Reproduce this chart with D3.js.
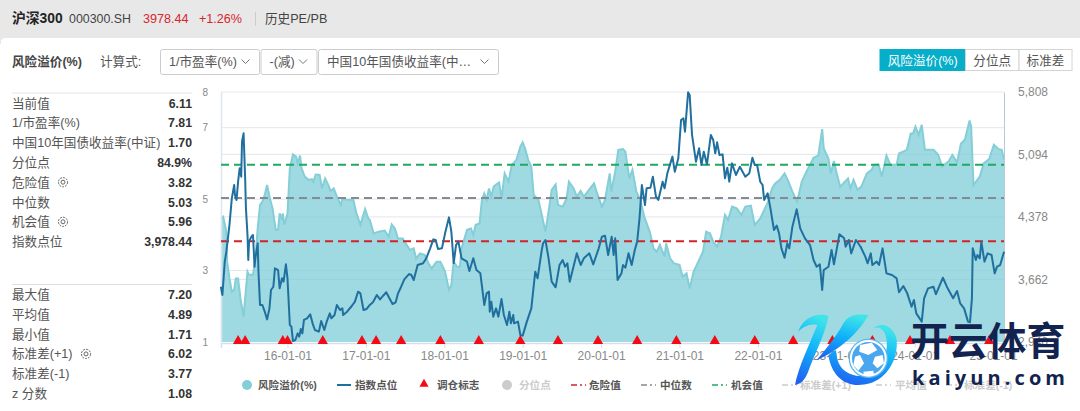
<!DOCTYPE html>
<html>
<head>
<meta charset="utf-8">
<script src="https://cdn.jsdelivr.net/npm/d3@7"></script>
<style>
html, body { margin: 0; padding: 0; background: #fff; overflow: hidden; }
svg { display: block; }
text { font-family: "Liberation Sans", "Noto Sans CJK SC", sans-serif; }
</style>
</head>
<body>
<svg id="chart" width="1080" height="411"></svg>
<script>
// [decimal year, risk premium %]
const riskSeries = [
  [2015.15,4.46],[2015.18,4.51],[2015.22,4.09],[2015.23,3.25],[2015.26,2.78],[2015.29,2.41],[2015.32,2.46],[2015.34,2.78],[2015.37,2.78],[2015.40,2.22],
  [2015.44,1.71],[2015.46,2.22],[2015.49,2.97],[2015.51,2.88],[2015.56,2.88],[2015.59,3.34],[2015.62,4.18],[2015.65,4.84],[2015.68,4.93],[2015.71,5.12],
  [2015.74,5.40],[2015.78,4.98],[2015.81,4.74],[2015.85,4.14],[2015.88,4.14],[2015.90,4.60],[2015.93,4.42],[2015.94,4.60],[2015.96,4.28],[2016.00,4.60],
  [2016.03,5.86],[2016.07,6.25],[2016.11,6.19],[2016.13,6.00],[2016.16,6.22],[2016.18,5.86],[2016.22,5.63],[2016.27,5.54],[2016.31,5.56],[2016.33,5.49],
  [2016.36,5.69],[2016.41,5.68],[2016.44,5.30],[2016.48,5.58],[2016.52,5.40],[2016.55,5.23],[2016.59,5.30],[2016.63,5.07],[2016.68,4.84],[2016.70,5.02],
  [2016.76,4.98],[2016.84,4.98],[2016.88,4.60],[2016.93,4.28],[2016.99,4.72],[2017.03,4.46],[2017.05,4.42],[2017.10,4.04],[2017.16,4.09],[2017.24,4.12],
  [2017.29,3.95],[2017.33,4.29],[2017.37,4.18],[2017.41,3.90],[2017.47,3.90],[2017.52,3.72],[2017.56,3.58],[2017.61,3.62],[2017.64,3.34],[2017.69,3.48],
  [2017.75,3.44],[2017.80,3.20],[2017.84,3.06],[2017.90,3.25],[2017.95,3.25],[2018.01,2.97],[2018.06,2.46],[2018.09,2.60],[2018.12,3.25],[2018.16,3.11],
  [2018.20,3.11],[2018.22,3.62],[2018.29,4.14],[2018.34,4.18],[2018.37,4.00],[2018.40,4.28],[2018.45,4.32],[2018.48,4.98],[2018.51,5.16],[2018.54,4.98],
  [2018.57,5.30],[2018.60,5.07],[2018.63,5.35],[2018.66,5.41],[2018.70,5.47],[2018.73,5.02],[2018.77,5.72],[2018.82,5.49],[2018.86,5.96],[2018.92,6.10],
  [2018.97,6.47],[2019.00,6.59],[2019.03,6.42],[2019.07,6.10],[2019.11,5.91],[2019.14,5.12],[2019.20,4.98],[2019.24,4.60],[2019.29,4.09],[2019.33,4.65],
  [2019.37,5.26],[2019.42,5.41],[2019.45,4.84],[2019.51,4.79],[2019.56,5.02],[2019.59,5.49],[2019.65,5.30],[2019.69,5.07],[2019.74,5.23],[2019.78,5.07],
  [2019.86,5.30],[2019.91,5.44],[2019.95,5.16],[2020.01,4.79],[2020.05,4.98],[2020.11,5.72],[2020.13,5.21],[2020.18,5.77],[2020.22,6.38],[2020.28,6.40],
  [2020.31,6.33],[2020.36,5.58],[2020.40,5.82],[2020.45,5.21],[2020.50,4.98],[2020.55,4.51],[2020.62,4.09],[2020.67,3.62],[2020.71,3.53],[2020.75,3.72],
  [2020.81,3.39],[2020.83,3.76],[2020.88,3.34],[2020.93,3.20],[2021.00,3.16],[2021.04,2.83],[2021.09,2.92],[2021.13,2.50],[2021.18,2.97],[2021.24,3.25],
  [2021.30,3.53],[2021.34,4.09],[2021.39,4.04],[2021.43,3.81],[2021.48,3.67],[2021.53,3.95],[2021.58,4.56],[2021.62,4.42],[2021.67,4.79],[2021.73,4.74],
  [2021.79,4.56],[2021.84,4.79],[2021.91,4.82],[2021.96,4.28],[2022.03,4.46],[2022.09,4.74],[2022.13,4.93],[2022.18,5.30],[2022.22,5.44],[2022.28,5.54],
  [2022.34,5.72],[2022.39,5.49],[2022.44,5.21],[2022.50,4.93],[2022.56,5.49],[2022.63,5.82],[2022.71,6.16],[2022.77,6.22],[2022.82,6.96],[2022.84,6.42],
  [2022.90,6.14],[2022.93,5.72],[2022.97,6.07],[2023.01,5.68],[2023.05,5.35],[2023.11,5.49],[2023.15,5.58],[2023.18,5.30],[2023.22,5.54],[2023.27,5.26],
  [2023.32,5.35],[2023.39,5.72],[2023.45,5.82],[2023.48,5.96],[2023.54,5.97],[2023.58,5.63],[2023.64,6.22],[2023.69,5.96],[2023.77,5.97],[2023.80,6.28],
  [2023.90,6.38],[2023.95,6.84],[2023.98,6.84],[2024.01,7.03],[2024.05,6.80],[2024.09,7.08],[2024.13,6.38],[2024.24,6.38],[2024.30,6.24],[2024.35,5.91],
  [2024.43,6.05],[2024.48,6.24],[2024.54,6.03],[2024.59,6.56],[2024.64,6.66],[2024.70,7.20],[2024.72,7.03],[2024.75,5.40],[2024.83,5.63],[2024.88,6.00],
  [2024.95,6.12],[2025.01,6.52],[2025.07,6.40],[2025.11,6.38],[2025.14,6.10]
];

// [decimal year, index level]
const indexSeries = [
  [2015.15,3579],[2015.17,3484],[2015.20,3866],[2015.22,3980],[2015.26,4285],[2015.29,4591],[2015.32,4743],[2015.33,4629],[2015.35,4572],[2015.37,4781],
  [2015.39,4934],[2015.41,4839],[2015.42,5239],[2015.44,5335],[2015.46,4820],[2015.47,4476],[2015.49,4171],[2015.50,3885],[2015.51,4095],[2015.54,4152],
  [2015.56,4171],[2015.58,3808],[2015.59,3904],[2015.62,4076],[2015.63,3751],[2015.65,3370],[2015.68,3370],[2015.71,3293],[2015.74,3205],[2015.77,3331],
  [2015.79,3541],[2015.82,3579],[2015.84,3789],[2015.88,3770],[2015.90,3560],[2015.93,3675],[2015.95,3637],[2015.98,3835],[2016.00,3675],[2016.03,3141],
  [2016.05,3122],[2016.07,2957],[2016.10,2969],[2016.13,3045],[2016.15,3007],[2016.17,3095],[2016.19,3045],[2016.21,3198],[2016.25,3217],[2016.29,3263],
  [2016.32,3160],[2016.35,3083],[2016.40,3064],[2016.43,3186],[2016.47,3083],[2016.50,3179],[2016.54,3274],[2016.56,3217],[2016.60,3255],[2016.63,3370],
  [2016.67,3312],[2016.70,3331],[2016.71,3255],[2016.76,3293],[2016.82,3358],[2016.86,3408],[2016.90,3522],[2016.93,3503],[2016.97,3312],[2017.01,3324],
  [2017.05,3370],[2017.09,3400],[2017.14,3484],[2017.18,3434],[2017.22,3476],[2017.26,3515],[2017.29,3465],[2017.34,3381],[2017.38,3400],[2017.41,3503],
  [2017.45,3579],[2017.49,3663],[2017.55,3724],[2017.58,3713],[2017.61,3656],[2017.66,3827],[2017.73,3847],[2017.77,3904],[2017.82,4018],[2017.86,4121],
  [2017.89,4114],[2017.92,4011],[2017.97,4018],[2018.01,4190],[2018.06,4373],[2018.09,4209],[2018.12,3847],[2018.15,4056],[2018.18,4095],[2018.22,3904],
  [2018.29,3866],[2018.32,3759],[2018.37,3904],[2018.41,3770],[2018.46,3732],[2018.51,3370],[2018.54,3503],[2018.57,3522],[2018.58,3293],[2018.60,3408],
  [2018.625,3236],[2018.66,3331],[2018.69,3236],[2018.73,3438],[2018.76,3255],[2018.80,3141],[2018.83,3293],[2018.85,3160],[2018.88,3255],[2018.89,3160],
  [2018.94,3179],[2018.97,3026],[2019.00,3019],[2019.05,3171],[2019.11,3331],[2019.16,3751],[2019.19,3675],[2019.24,3980],[2019.26,4076],[2019.29,4114],
  [2019.33,3904],[2019.37,3637],[2019.42,3572],[2019.47,3827],[2019.51,3885],[2019.54,3808],[2019.57,3847],[2019.60,3637],[2019.65,3816],[2019.69,3961],
  [2019.74,3827],[2019.78,3904],[2019.85,3961],[2019.90,3835],[2019.97,4018],[2020.01,4152],[2020.05,4163],[2020.09,3942],[2020.135,4152],[2020.16,3942],
  [2020.18,4133],[2020.21,3656],[2020.26,3732],[2020.28,3827],[2020.31,3797],[2020.35,3961],[2020.39,3827],[2020.43,3999],[2020.46,4095],[2020.49,4362],
  [2020.52,4743],[2020.56,4514],[2020.58,4705],[2020.63,4713],[2020.66,4839],[2020.70,4610],[2020.73,4572],[2020.785,4781],[2020.81,4705],[2020.845,4877],
  [2020.91,5068],[2020.94,4896],[2020.985,5049],[2021.02,5487],[2021.05,5507],[2021.07,5354],[2021.11,5804],[2021.13,5774],[2021.16,5316],[2021.21,5010],
  [2021.25,5163],[2021.28,4972],[2021.31,5125],[2021.35,4980],[2021.40,5316],[2021.43,5259],[2021.456,5106],[2021.48,5232],[2021.51,5087],[2021.55,5094],
  [2021.58,4820],[2021.61,4942],[2021.635,4781],[2021.67,4991],[2021.72,4858],[2021.77,4953],[2021.84,4839],[2021.89,4877],[2021.93,5056],[2021.96,4972],
  [2021.99,4972],[2022.03,4781],[2022.06,4743],[2022.08,4572],[2022.125,4648],[2022.16,4476],[2022.205,4228],[2022.24,4278],[2022.27,4190],[2022.30,4018],
  [2022.34,3911],[2022.375,4076],[2022.40,4018],[2022.44,4266],[2022.495,4465],[2022.54,4247],[2022.60,4133],[2022.665,4056],[2022.71,3885],[2022.75,3808],
  [2022.79,3835],[2022.82,3541],[2022.84,3770],[2022.90,3808],[2022.94,3999],[2022.97,3835],[2023.04,4179],[2023.10,4133],[2023.12,4037],[2023.16,4114],
  [2023.19,3961],[2023.25,4114],[2023.31,4037],[2023.37,3923],[2023.40,3847],[2023.44,3961],[2023.46,3827],[2023.515,3866],[2023.545,3827],[2023.59,4018],
  [2023.64,3732],[2023.71,3713],[2023.77,3675],[2023.80,3515],[2023.855,3587],[2023.905,3503],[2023.96,3350],[2023.99,3427],[2024.02,3274],[2024.09,3179],
  [2024.12,3446],[2024.17,3560],[2024.24,3579],[2024.27,3492],[2024.36,3682],[2024.41,3579],[2024.49,3446],[2024.54,3530],[2024.58,3389],[2024.63,3331],
  [2024.68,3179],[2024.705,3171],[2024.73,3446],[2024.74,4018],[2024.78,3885],[2024.80,3942],[2024.83,3904],[2024.85,4095],[2024.89,3866],[2024.93,3961],
  [2024.98,3942],[2025.02,3732],[2025.05,3808],[2025.09,3827],[2025.14,3980]
];

const rebalanceYears = [2015.37,2015.46,2015.94,2016.0,2016.45,2016.95,2017.13,2017.45,2017.95,2018.44,2018.97,2019.45,2019.96,2020.46,2020.96,2021.45,2021.96,2022.45,2022.95,2023.46,2023.94,2024.45,2024.95];
const dangerValue = 3.82, medianValue = 5.03, chanceValue = 5.96;
const leftTicks = [8, 7, 5, 3, 1];
const rightTicks = [5808, 5094, 4378, 3662, 2946];
const yearTicks = [2016, 2017, 2018, 2019, 2020, 2021, 2022, 2023, 2024, 2025];

const statsTop = [
  ["当前值", "6.11"], ["1/市盈率(%)", "7.81"], ["中国10年国债收益率(中证)", "1.70"], ["分位点", "84.9%"],
  ["危险值", "3.82", 63], ["中位数", "5.03"], ["机会值", "5.96", 63], ["指数点位", "3,978.44"]
];
const statsBottom = [
  ["最大值", "7.20"], ["平均值", "4.89"], ["最小值", "1.71"], ["标准差(+1)", "6.02", 86], ["标准差(-1)", "3.77"], ["z 分数", "1.08"]
];

const svg = d3.select("#chart");
const plot = { left: 221, right: 1004, top: 92, bottom: 342 };

const x = d3.scaleLinear().domain([2015.152, 2025.139]).range([plot.left, plot.right]);
const yLeft = d3.scaleLinear().domain([1, 8]).range([plot.bottom, plot.top]);
const yRight = d3.scaleLinear().domain([2946, 5808]).range([plot.bottom, plot.top]);

function label(g, tx, ty, str, size, color, weight, anchor) {
  return g.append("text").attr("x", tx).attr("y", ty)
    .attr("font-size", size).attr("fill", color || "#444")
    .attr("font-weight", weight || "normal")
    .attr("text-anchor", anchor || "start")
    .text(str);
}

// page header
svg.append("rect").attr("width", 1080).attr("height", 411).attr("fill", "#fff");
svg.append("rect").attr("width", 1080).attr("height", 44).attr("fill", "#e8e8e8");
svg.append("rect").attr("x", 1).attr("y", 38).attr("width", 1085).attr("height", 380).attr("rx", 4).attr("fill", "#fff");
label(svg, 12, 23, "沪深300", 13.8, "#222", "bold");
label(svg, 69, 23, "000300.SH", 12.4, "#444");
label(svg, 143, 23, "3978.44", 12.6, "#d6262c");
label(svg, 199, 23, "+1.26%", 12.6, "#d6262c");
svg.append("line").attr("x1", 255.5).attr("x2", 255.5).attr("y1", 12).attr("y2", 26).attr("stroke", "#ccc");
label(svg, 265, 23, "历史PE/PB", 12.6, "#444");

// formula controls
label(svg, 12, 66, "风险溢价(%)", 12.6, "#444", "bold");
label(svg, 100, 66, "计算式:", 12.6, "#555");
const selects = [
  { x: 160.5, w: 99, t: "1/市盈率(%)" },
  { x: 261, w: 56, t: "-(减)" },
  { x: 318.5, w: 180, t: "中国10年国债收益率(中…" }
];
selects.forEach(s => {
  svg.append("rect").attr("x", s.x).attr("y", 49.5).attr("width", s.w).attr("height", 25).attr("rx", 2)
    .attr("fill", "#fff").attr("stroke", "#ccc");
  label(svg, s.x + 8.5, 66, s.t, 12.6, "#555");
  const cx = s.x + s.w - 14;
  svg.append("path").attr("d", `M${cx - 4},59.5L${cx},63.5L${cx + 4},59.5`).attr("fill", "none").attr("stroke", "#777");
});

// view toggle
const toggles = [
  { x: 880, w: 85.5, t: "风险溢价(%)", on: true },
  { x: 965.5, w: 53.5, t: "分位点" },
  { x: 1019, w: 53, t: "标准差" }
];
toggles.forEach(b => {
  svg.append("rect").attr("x", b.x).attr("y", 49.5).attr("width", b.w).attr("height", 21)
    .attr("fill", b.on ? "#07aec9" : "#fff").attr("stroke", b.on ? "#07aec9" : "#d4d4d4");
  label(svg, b.x + b.w / 2, 64.5, b.t, 12.6, b.on ? "#fff" : "#555", "normal", "middle");
});

// stats panel
function gear(cx, cy) {
  svg.append("circle").attr("cx", cx).attr("cy", cy).attr("r", 4.6).attr("fill", "none").attr("stroke", "#666").attr("stroke-dasharray", "2 1");
  svg.append("circle").attr("cx", cx).attr("cy", cy).attr("r", 2).attr("fill", "none").attr("stroke", "#666");
}
svg.append("line").attr("x1", 12).attr("x2", 192).attr("y1", 93).attr("y2", 93).attr("stroke", "#eee").attr("stroke-width", 1.5);
svg.append("line").attr("x1", 12).attr("x2", 192).attr("y1", 284.5).attr("y2", 284.5).attr("stroke", "#ddd");
function statRows(rows, top) {
  rows.forEach((r, i) => {
    const ry = top + i * 19.8;
    label(svg, 12, ry, r[0], 12.6, "#555");
    label(svg, 192, ry, r[1], 12.3, "#333", "bold", "end");
    if (r[2]) gear(r[2], ry - 4.5);
  });
}
statRows(statsTop, 107.5);
statRows(statsBottom, 299);

// grid
const gridG = svg.append("g");
[7, 5, 3].forEach(v => gridG.append("line").attr("x1", plot.left).attr("x2", plot.right)
  .attr("y1", yLeft(v)).attr("y2", yLeft(v)).attr("stroke", "#e6e6ea"));
[5094, 4378, 3662].forEach(v => gridG.append("line").attr("x1", plot.left).attr("x2", plot.right)
  .attr("y1", yRight(v)).attr("y2", yRight(v)).attr("stroke", "#e6e6ea"));
gridG.append("line").attr("x1", plot.left).attr("x2", plot.right).attr("y1", plot.top).attr("y2", plot.top).attr("stroke", "#e8e8ec");

// risk premium area
const area = d3.area().x(d => x(d[0])).y0(plot.bottom).y1(d => yLeft(d[1]));
const riskLine = d3.line().x(d => x(d[0])).y(d => yLeft(d[1]));
svg.append("path").datum(riskSeries).attr("d", area).attr("fill", "#7ccbd6").attr("fill-opacity", 0.73);
svg.append("path").datum(riskSeries).attr("d", riskLine).attr("fill", "none").attr("stroke", "#84ced7").attr("stroke-width", 2);

// axes
const xAxis = d3.axisBottom(x).tickValues(yearTicks)
  .tickFormat(d => String(d).slice(2) + "-01-01").tickSize(5).tickPadding(3);
const xG = svg.append("g").attr("transform", `translate(0,${plot.bottom + 1})`).call(xAxis);
xG.select(".domain").attr("stroke", "#d5dfee").attr("stroke-width", 1.5);
xG.selectAll(".tick line").attr("stroke", "#d5dfee");
xG.selectAll("text").attr("font-size", 12).attr("fill", "#888").style("font-family", '"Liberation Sans", sans-serif');

const leftAxis = d3.axisLeft(yLeft).tickValues(leftTicks).tickFormat(d3.format("d")).tickSize(0).tickPadding(13);
const lG = svg.append("g").attr("transform", `translate(${plot.left},0)`).call(leftAxis);
lG.select(".domain").attr("stroke", "#dfe5f0").attr("stroke-width", 1.5);
lG.selectAll("text").attr("font-size", 10).attr("fill", "#888").style("font-family", '"Liberation Sans", sans-serif');

const rightAxis = d3.axisRight(yRight).tickValues(rightTicks).tickSize(0).tickPadding(14).tickFormat(d3.format(","));
const rG = svg.append("g").attr("transform", `translate(${plot.right},0)`).call(rightAxis);
rG.select(".domain").attr("stroke", "#b4c9da");
rG.selectAll("text").attr("font-size", 12).attr("fill", "#888").style("font-family", '"Liberation Sans", sans-serif');

// reference lines
const refLines = [
  { v: dangerValue, c: "#d2232a" },
  { v: medianValue, c: "#858b93" },
  { v: chanceValue, c: "#1faa62" }
];
refLines.forEach(r => {
  svg.append("line").attr("x1", plot.left).attr("x2", plot.right)
    .attr("y1", yLeft(r.v)).attr("y2", yLeft(r.v))
    .attr("stroke", r.c).attr("stroke-width", 2).attr("stroke-dasharray", "8 5");
});

// index line
const indexLine = d3.line().x(d => x(d[0])).y(d => yRight(d[1]));
svg.append("path").datum(indexSeries).attr("d", indexLine).attr("fill", "none")
  .attr("stroke", "#20709f").attr("stroke-width", 2).attr("stroke-linejoin", "round");

// rebalance markers
const triangle = d3.symbol().type(d3.symbolTriangle).size(46);
svg.selectAll(".mark").data(rebalanceYears).join("path").attr("class", "mark")
  .attr("d", triangle)
  .attr("transform", d => `translate(${x(d)},${plot.bottom - 1})`)
  .attr("fill", "#f50a14");

// legend
const legendItems = [
  { t: "风险溢价(%)", tx: 258, kind: "dot", kx: 247, c: "#84ced7", tc: "#555" },
  { t: "指数点位", tx: 355, kind: "line", kx: 337, c: "#20709f", tc: "#555" },
  { t: "调仓标志", tx: 437, kind: "tri", kx: 424, c: "#f50a14", tc: "#555" },
  { t: "分位点", tx: 519, kind: "dot", kx: 507, c: "#ccc", tc: "#ccc" },
  { t: "危险值", tx: 589, kind: "dash", kx: 571, c: "#d2232a", tc: "#555" },
  { t: "中位数", tx: 660, kind: "dash", kx: 641, c: "#858b93", tc: "#555" },
  { t: "机会值", tx: 731, kind: "dash", kx: 712, c: "#1faa62", tc: "#555" },
  { t: "标准差(+1)", tx: 800, kind: "dash", kx: 782, c: "#ccc", tc: "#ccc" },
  { t: "平均值", tx: 895, kind: "dash", kx: 876, c: "#ccc", tc: "#ccc" },
  { t: "标准差(-1)", tx: 964, kind: "dash", kx: 946, c: "#ccc", tc: "#ccc" }
];
const ly = 385;
legendItems.forEach(it => {
  if (it.kind === "dot") svg.append("circle").attr("cx", it.kx).attr("cy", ly).attr("r", 5).attr("fill", it.c);
  if (it.kind === "line") svg.append("line").attr("x1", it.kx).attr("x2", it.kx + 14).attr("y1", ly).attr("y2", ly).attr("stroke", it.c).attr("stroke-width", 2);
  if (it.kind === "dash") svg.append("line").attr("x1", it.kx).attr("x2", it.kx + 15).attr("y1", ly).attr("y2", ly).attr("stroke", it.c).attr("stroke-width", 1.5).attr("stroke-dasharray", "6 3 2 3");
  if (it.kind === "tri") svg.append("path").attr("d", d3.symbol().type(d3.symbolTriangle).size(36)).attr("transform", `translate(${it.kx},${ly - 1})`).attr("fill", it.c);
  label(svg, it.tx, ly + 4, it.t, 10.6, it.tc, "bold");
});

// watermark logo
const defs = svg.append("defs");
const grad = defs.append("linearGradient").attr("id", "logoGrad").attr("x1", 0.6).attr("y1", 0).attr("x2", 0.3).attr("y2", 1);
grad.append("stop").attr("offset", "0%").attr("stop-color", "#3fe3ea");
grad.append("stop").attr("offset", "45%").attr("stop-color", "#10b4fa");
grad.append("stop").attr("offset", "100%").attr("stop-color", "#1e62f0");
const logo = svg.append("g").attr("transform", "translate(760,300) scale(0.3333)");
logo.append("path").attr("fill", "url(#logoGrad)")
  .attr("d", "M115,95C125,60 165,35 205,48C200,90 170,150 150,200C140,230 130,250 105,255C115,200 150,130 172,75C150,70 130,80 115,95Z");
logo.append("path").attr("fill", "url(#logoGrad)")
  .attr("d", "M325,45C290,40 265,45 250,70C235,100 205,140 170,180C220,160 290,110 325,45Z");
logo.append("path").attr("fill", "url(#logoGrad)")
  .attr("d", "M205,165C215,230 260,270 330,250C380,235 415,180 410,120C405,85 370,60 340,85C365,75 385,100 380,145C375,190 330,240 280,225C245,215 230,190 228,150Z");
logo.append("circle").attr("cx", 325).attr("cy", 175).attr("r", 57).attr("fill", "#fff").attr("stroke", "#5ab8f2").attr("stroke-width", 4);
logo.append("circle").attr("cx", 325).attr("cy", 175).attr("r", 49).attr("fill", "#4aa6ee");
logo.append("path").attr("fill", "#fff").attr("d", "M300,135L335,128L352,150L325,165L298,155Z");
logo.append("path").attr("fill", "#fff").attr("d", "M285,170L300,165L312,190L295,212L280,195Z");
logo.append("path").attr("fill", "#fff").attr("d", "M345,170L368,165L372,190L352,205L338,190Z");
logo.append("path").attr("fill", "#fff").attr("d", "M310,215L340,212L342,224L312,226Z");

const brand = label(svg, 910, 355, "开云体育", 38.8, "#12234f", "bold");
brand.style("font-family", '"Noto Sans CJK SC", sans-serif');
const site = label(svg, 912, 385, "kaiyun.com", 20, "#12234f", "bold");
site.style("font-family", '"Open Sans", sans-serif').attr("textLength", 153).attr("lengthAdjust", "spacing");
</script>
</body>
</html>
